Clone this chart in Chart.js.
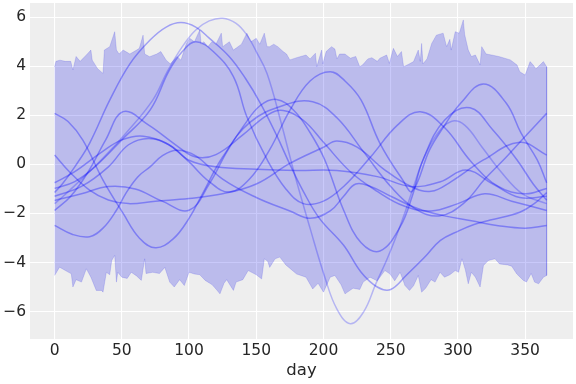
<!DOCTYPE html>
<html>
<head>
<meta charset="utf-8">
<script src="https://cdn.jsdelivr.net/npm/chart.js@4.4.1/dist/chart.umd.min.js"></script>
<style>
  html, body { margin: 0; padding: 0; background: #ffffff; }
  #wrap { width: 576px; height: 384px; }
</style>
</head>
<body>
<div id="wrap"><canvas id="gpChart" width="576" height="384"></canvas></div>
<script>
// axis ticks
var xTicks = [0, 50, 100, 150, 200, 250, 300, 350];
var yTicks = [-6, -4, -2, 0, 2, 4, 6];

// HDI band, upper edge
var upperDays = [0, 1, 4, 8, 12, 13.6, 16, 19, 23.6, 27, 28, 32, 36, 37, 41, 44.7, 46, 48, 51, 56, 61, 63, 65.8, 67, 70.7, 76, 79, 83, 86, 88, 91, 94, 98, 100.5, 104, 108, 109, 111, 114, 117, 120, 124, 125, 130, 133, 139, 143, 146, 150, 152.6, 156, 158, 160, 163, 166, 170, 172.5, 175, 180, 187, 190, 194, 195, 198.6, 199.5, 202, 206, 208.5, 210, 212, 216, 220, 224, 227, 229, 233, 236, 240, 242, 247, 249, 252, 255, 258, 259.6, 264, 267, 270.5, 272, 273, 274, 277, 280.5, 284, 289, 291.6, 294, 295, 298, 301, 304, 305, 307.7, 310, 313, 316.5, 317.7, 321, 326, 331, 339, 344, 346, 350, 353.7, 356, 358, 361, 363.6, 366];
var upperVals = [3.98, 4.2, 4.25, 4.2, 4.2, 3.85, 4.4, 4.2, 4.46, 4.66, 4.25, 3.9, 3.71, 4.66, 4.8, 5.41, 4.66, 4.5, 4.66, 4.5, 4.66, 4.73, 5.27, 4.5, 4.39, 4.5, 4.6, 4.25, 4.1, 4.2, 4.4, 4.25, 4.93, 5.14, 5.0, 5.48, 4.9, 5.0, 4.8, 5.0, 4.9, 5.35, 4.8, 5.0, 4.66, 4.9, 5.35, 5.0, 5.14, 4.9, 5.35, 4.8, 4.8, 4.9, 4.8, 4.6, 4.5, 4.26, 4.35, 4.46, 4.3, 4.53, 3.98, 4.66, 4.1, 4.6, 4.8, 4.7, 4.3, 4.5, 4.5, 4.33, 4.4, 3.98, 4.05, 4.3, 4.35, 4.2, 4.33, 4.46, 4.12, 4.73, 4.4, 4.6, 3.98, 4.1, 4.19, 4.66, 4.2, 4.93, 4.1, 4.3, 4.93, 5.27, 5.35, 4.8, 5.1, 4.66, 5.41, 5.35, 5.89, 5.3, 4.66, 4.4, 4.46, 4.05, 4.8, 4.5, 4.45, 4.39, 4.26, 4.05, 3.78, 3.64, 4.19, 4.05, 3.9, 4.05, 4.19, 3.98];

// HDI band, lower edge
var lowerDays = [0, 3.7, 8.7, 12.4, 13.6, 16, 20, 23.6, 27, 31, 35, 36, 38.5, 41, 42.5, 44.7, 46, 47, 50, 54, 57, 61, 64.5, 67, 68, 73, 78, 82, 85.6, 89, 93, 96.5, 100, 104, 108, 112, 117, 120, 123, 126, 128, 133, 135, 140, 144, 150, 154, 156, 158.5, 160, 164, 167.5, 172, 180, 187, 192, 196, 200, 205, 208.5, 213, 216, 222, 227, 229.5, 234.6, 240, 244, 245.7, 249.5, 253, 257, 260.6, 264, 267, 270.5, 273, 276, 280, 283, 286.7, 290, 294, 298, 300.5, 303, 305.5, 307.7, 310, 313, 316.5, 319, 322.6, 327.6, 331, 337, 340, 343.8, 348.7, 351, 354.5, 357, 360, 363.6, 366];
var lowerVals = [-4.53, -4.19, -4.35, -4.46, -5.0, -4.7, -4.8, -4.26, -4.6, -5.14, -5.14, -5.21, -4.4, -4.5, -3.92, -3.71, -4.8, -4.4, -4.6, -4.65, -4.4, -4.55, -4.73, -3.85, -4.45, -4.4, -4.45, -4.2, -4.8, -5.0, -4.7, -4.94, -4.4, -4.47, -4.5, -4.73, -4.9, -5.08, -5.28, -4.85, -4.7, -5.14, -4.8, -4.7, -4.33, -4.5, -4.67, -3.85, -3.95, -4.2, -3.85, -3.78, -4.1, -4.47, -4.6, -5.08, -4.85, -5.21, -4.6, -4.53, -4.9, -5.28, -5.05, -5.1, -4.8, -4.6, -4.75, -4.45, -4.33, -4.47, -4.75, -4.4, -4.94, -5.14, -4.95, -4.53, -5.21, -5.05, -4.7, -4.8, -4.4, -4.6, -4.5, -4.33, -4.4, -3.85, -4.3, -4.87, -4.4, -4.6, -5.0, -4.12, -3.92, -3.85, -4.06, -4.1, -4.15, -4.47, -4.73, -4.8, -4.45, -4.8, -4.87, -4.6, -4.53];

// posterior draws (days, values)
var draw1Days = [0, 10, 21, 36, 51, 63, 75, 88, 100, 110, 125, 145, 170, 192, 210, 230, 250, 268, 286, 304, 320, 336, 351, 366];
var draw1 = [2.08, 1.75, 0.99, -0.64, -2.0, -3.0, -3.4, -3.05, -2.2, -1.2, 0.3, 1.7, 2.4, 2.55, 1.9, 0.5, -0.9, -1.8, -2.1, -1.6, -0.6, 0.3, 1.2, 2.08];

var draw2Days = [0, 6, 15, 26, 41, 56, 71, 83, 94, 105, 115, 130, 142, 153, 165, 175, 185, 197, 215, 228, 240, 250, 262, 275, 287, 301, 312, 324, 346, 358, 366];
var draw2 = [-1.15, -0.78, -0.1, 0.86, 2.62, 4.1, 5.07, 5.6, 5.78, 5.6, 5.15, 4.39, 3.5, 2.5, 1.2, 0.0, -1.1, -2.2, -3.3, -4.4, -5.0, -5.1, -4.5, -3.8, -3.1, -2.7, -2.45, -2.27, -1.95, -1.55, -1.15];

var draw3Days = [0, 6, 20, 35, 53, 73, 84, 95, 105, 115, 125, 135, 143, 150, 158, 168, 178, 190, 201, 210, 220, 230, 239, 247, 254, 261, 267, 274, 284, 295, 305, 318, 332, 348, 366];
var draw3 = [-1.6, -1.32, -0.6, 0.2, 1.27, 2.62, 3.8, 4.8, 5.48, 5.85, 5.96, 5.75, 5.28, 4.6, 3.71, 1.8, -0.3, -2.6, -4.6, -5.9, -6.5, -6.0, -4.86, -3.9, -2.95, -1.9, -0.91, 0.18, 1.2, 1.75, 1.6, 0.7, -0.3, -1.2, -1.6];

var draw4Days = [0, 15, 30, 50, 71, 85, 95, 105, 118, 133, 143, 158, 172, 185, 200, 215, 235, 255, 272, 290, 310, 330, 350, 366];
var draw4 = [-0.98, -0.7, -0.1, 1.0, 2.21, 3.8, 4.6, 5.0, 4.6, 3.58, 1.94, 0.2, -1.0, -1.6, -1.5, -0.9, 0.3, 1.6, 2.15, 1.5, 0.1, -0.9, -1.2, -0.98];

var draw5Days = [0, 20, 40, 60, 80, 100, 115, 128, 141, 153, 165, 178, 190, 201, 215, 228, 242, 257, 266, 274, 290, 309, 326, 344, 356, 366];
var draw5 = [-1.47, -1.2, -0.9, -1.0, -1.5, -1.87, -0.8, 0.5, 1.6, 2.4, 2.65, 2.2, 1.3, 0.18, -1.87, -3.2, -3.53, -2.55, -1.3, 0.18, 1.8, 2.31, 1.4, 0.18, -0.8, -1.46];

var draw6Days = [0, 15, 35, 50, 66, 85, 100, 115, 130, 145, 160, 175, 190, 205, 216, 228, 242, 259, 266, 279, 289, 302, 319, 336, 347, 359, 366];
var draw6 = [-0.75, -0.3, 0.5, 1.0, 1.15, 0.8, 0.1, -0.7, -1.13, -0.6, 0.6, 2.2, 3.4, 3.78, 3.4, 2.62, 0.86, -0.64, -1.1, 0.6, 1.5, 2.49, 3.28, 2.49, 1.27, 0.18, -0.75];

var draw7Days = [0, 11, 26, 40, 55, 75, 100, 125, 150, 175, 200, 210, 225, 245, 265, 280, 295, 319, 346, 366];
var draw7 = [0.38, -0.3, -1.05, -1.45, -1.6, -1.5, -1.39, -1.2, -0.8, 0.04, 0.7, 0.95, 0.7, -0.2, -0.9, -1.1, -0.7, 0.18, 0.9, 0.38];

var draw8Days = [0, 13, 26, 36, 46, 53, 62, 71, 80, 91, 105, 125, 150, 175, 190, 205, 215, 224, 235, 250, 270, 290, 310, 330, 350, 366];
var draw8 = [-2.49, -2.85, -2.95, -2.6, -1.87, -1.18, -0.5, -0.1, 0.35, 0.58, 0.35, -0.6, -1.35, -1.9, -2.2, -1.9, -1.3, -0.8, -0.9, -1.3, -1.8, -2.1, -2.3, -2.5, -2.6, -2.49];

var draw9Days = [0, 12, 25, 38, 51, 70, 90, 105, 120, 140, 158, 170, 185, 200, 220, 240, 260, 280, 300, 320, 340, 366];
var draw9 = [-1.88, -1.3, -0.3, 1.0, 2.15, 1.6, 0.8, 0.3, 0.4, 1.2, 2.0, 2.2, 1.8, 0.9, -0.3, -1.1, -1.7, -1.9, -1.6, -1.2, -1.5, -1.88];

var draw10Days = [0, 20, 40, 55, 70, 85, 100, 120, 150, 180, 210, 240, 265, 287, 306, 326, 346, 366];
var draw10 = [-1.3, -0.9, -0.1, 0.8, 1.06, 0.8, 0.17, -0.1, -0.2, -0.25, -0.25, -0.5, -0.9, -0.71, -0.23, -0.8, -1.35, -1.3];

function toPoints(days, vals) {
  return days.map(function (d, i) { return { x: d, y: vals[i] }; });
}

// closed outline of the band: upper edge forward, lower edge back
var bandPoints = toPoints(upperDays, upperVals).concat(toPoints(lowerDays, lowerVals).reverse());

var drawList = [
  [draw1Days, draw1], [draw2Days, draw2], [draw3Days, draw3], [draw4Days, draw4], [draw5Days, draw5],
  [draw6Days, draw6], [draw7Days, draw7], [draw8Days, draw8], [draw9Days, draw9], [draw10Days, draw10]
];

var datasets = [];
for (var i = 0; i < drawList.length; i++) {
  datasets.push({
    data: toPoints(drawList[i][0], drawList[i][1]),
    borderColor: (i === 2) ? 'rgba(0,0,255,0.24)' : 'rgba(0,0,255,0.33)',
    borderWidth: 1.5,
    pointRadius: 0,
    fill: false,
    tension: 0.4
  });
}
datasets.push({
  data: bandPoints,
  borderColor: 'rgba(10,10,230,0.14)',
  backgroundColor: 'rgba(10,10,230,0.22)',
  borderWidth: 1,
  pointRadius: 0,
  tension: 0,
  fill: 'shape'
});

var plotBg = {
  id: 'plotBg',
  beforeDraw: function (chart) {
    var a = chart.chartArea, ctx = chart.ctx;
    ctx.save();
    ctx.fillStyle = '#eeeeee';
    ctx.fillRect(a.left, a.top, a.right - a.left, a.bottom - a.top);
    ctx.restore();
  }
};

function minusSign(v) { return String(v).replace('-', '\u2212'); }

var ctx = document.getElementById('gpChart');
var gpChart = new Chart(ctx, {
  type: 'line',
  data: { datasets: datasets },
  options: {
    responsive: false,
    animation: false,
    layout: { padding: { top: 3, right: 3, left: 0, bottom: 0 } },
    plugins: { legend: { display: false }, tooltip: { enabled: false } },
    scales: {
      x: {
        type: 'linear',
        min: -18.3,
        max: 385.6,
        afterBuildTicks: function (s) { s.ticks = xTicks.map(function (v) { return { value: v }; }); },
        afterFit: function (s) { s.height = 45; s.paddingLeft = 0; s.paddingRight = 0; },
        grid: { color: '#ffffff', lineWidth: 1.1, drawTicks: false },
        border: { display: false },
        ticks: { color: '#262626', padding: 3, maxRotation: 0, font: { family: 'DejaVu Sans', size: 15.5 } },
        title: { display: true, text: 'day', color: '#262626', padding: { top: 0, bottom: 3 }, font: { family: 'DejaVu Sans', size: 16.5 } }
      },
      y: {
        min: -7.12,
        max: 6.58,
        afterBuildTicks: function (s) { s.ticks = yTicks.map(function (v) { return { value: v }; }); },
        afterFit: function (s) { s.width = 30; s.paddingTop = 0; s.paddingBottom = 0; },
        grid: { color: '#ffffff', lineWidth: 1.1, drawTicks: false },
        border: { display: false },
        ticks: { color: '#262626', padding: 4, font: { family: 'DejaVu Sans', size: 15.5 }, callback: minusSign }
      }
    }
  },
  plugins: [plotBg]
});
</script>
</body>
</html>
